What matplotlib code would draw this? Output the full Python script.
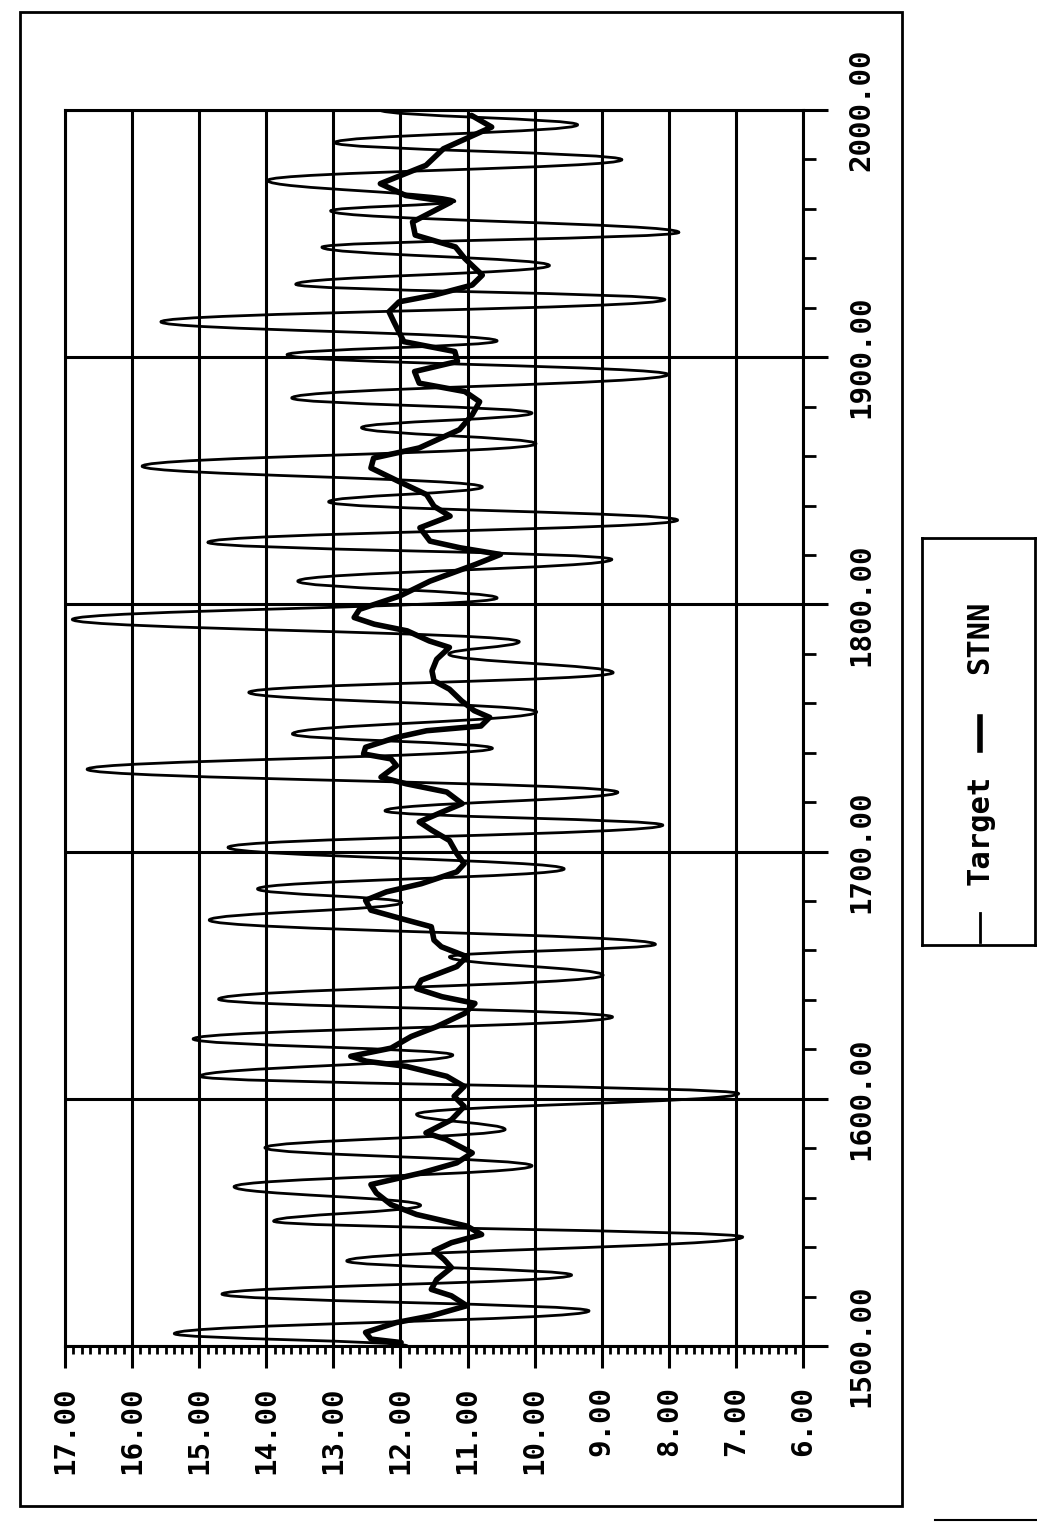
import matplotlib
matplotlib.use('Agg')
import matplotlib.pyplot as plt
from matplotlib.path import Path
from matplotlib.patches import PathPatch, Rectangle
from matplotlib.ticker import MultipleLocator, FormatStrFormatter
from matplotlib.lines import Line2D

# ---------------- data (time, value) ----------------
target_t = [1500.0, 1505.0, 1514.2, 1521.0, 1528.7, 1534.4, 1544.1, 1550.5, 1556.9, 1564.4,
            1572.9, 1580.2, 1587.6, 1593.7, 1602.1, 1609.1, 1617.7, 1624.2, 1633.1, 1640.3,
            1650.0, 1657.4, 1662.5, 1672.3, 1679.4, 1684.9, 1693.0, 1701.7, 1710.7, 1716.5,
            1724.0, 1733.3, 1741.8, 1747.6, 1756.5, 1764.4, 1772.4, 1779.9, 1784.9, 1793.9,
            1802.6, 1809.4, 1818.2, 1825.1, 1834.1, 1841.5, 1847.5, 1855.9, 1865.0, 1871.5,
            1877.4, 1883.5, 1893.0, 1901.0, 1906.6, 1914.3, 1923.3, 1929.5, 1937.1, 1944.5,
            1950.5, 1959.2, 1963.1, 1971.5, 1979.9, 1986.8, 1994.0, 2000.0]
target_v = [11.90, 15.37, 9.19, 14.66, 9.45, 12.80, 6.90, 13.89, 11.70, 14.48,
            10.04, 14.02, 10.44, 11.76, 6.96, 14.99, 11.22, 15.09, 8.84, 14.71,
            8.98, 11.27, 8.20, 14.85, 11.98, 14.13, 9.56, 14.57, 8.09, 12.23,
            8.76, 16.67, 10.63, 13.61, 9.97, 14.26, 8.83, 11.28, 10.23, 16.89,
            10.56, 13.53, 8.85, 14.87, 7.87, 13.07, 10.78, 15.85, 9.98, 12.58,
            10.04, 13.62, 8.01, 13.69, 10.56, 15.57, 8.06, 13.56, 9.78, 13.17,
            7.85, 13.04, 11.19, 13.98, 8.70, 12.98, 9.36, 12.30]

stnn_t = [1501.4, 1502.8, 1505.5, 1509.5, 1512.2, 1516.3, 1520.3, 1522.9, 1526.9, 1531.7,
          1535.0, 1538.5, 1541.8, 1545.1, 1548.5, 1553.2, 1557.2, 1561.9, 1565.3, 1570.0,
          1574.1, 1578.1, 1583.6, 1586.2, 1591.5, 1596.9, 1601.0, 1605.0, 1609.1, 1613.1,
          1615.2, 1617.2, 1620.5, 1625.2, 1629.2, 1634.6, 1638.6, 1641.3, 1644.6, 1648.0,
          1653.5, 1657.5, 1661.5, 1664.2, 1669.6, 1672.9, 1676.3, 1680.3, 1683.7, 1687.0,
          1691.8, 1695.1, 1699.2, 1704.5, 1708.6, 1712.0, 1716.0, 1719.4, 1724.1, 1727.4,
          1730.1, 1734.8, 1737.5, 1739.5, 1742.2, 1746.2, 1748.9, 1750.8, 1754.3, 1757.0,
          1761.0, 1765.7, 1769.1, 1773.1, 1777.8, 1782.6, 1785.2, 1789.3, 1792.0, 1794.7,
          1798.0, 1803.4, 1809.4, 1816.2, 1820.2, 1822.9, 1825.6, 1831.0, 1835.7, 1839.7,
          1844.4, 1849.8, 1855.2, 1859.2, 1863.3, 1870.7, 1876.7, 1882.0, 1886.1, 1889.5,
          1894.2, 1898.3, 1902.3, 1906.3, 1914.4, 1918.4, 1922.4, 1925.1, 1929.2, 1933.2,
          1939.9, 1944.6, 1949.4, 1954.7, 1962.7, 1965.4, 1970.2, 1977.6, 1984.3, 1993.1,
          1997.8]
stnn_v = [11.99, 12.44, 12.52, 12.06, 11.54, 11.01, 11.24, 11.54, 11.46, 11.24,
          11.35, 11.50, 11.24, 10.79, 11.01, 11.76, 12.14, 12.36, 12.44, 11.69,
          11.16, 10.93, 11.32, 11.62, 11.24, 11.05, 11.20, 11.05, 11.31, 11.91,
          12.51, 12.74, 12.14, 11.84, 11.46, 11.04, 10.89, 11.38, 11.76, 11.69,
          11.16, 11.01, 11.39, 11.50, 11.54, 11.99, 12.44, 12.52, 12.21, 11.69,
          11.16, 11.05, 11.16, 11.27, 11.53, 11.72, 11.38, 11.08, 11.31, 11.91,
          12.29, 12.06, 12.14, 12.55, 12.52, 12.06, 11.61, 10.80, 10.67, 10.90,
          11.09, 11.27, 11.50, 11.53, 11.46, 11.27, 11.57, 11.90, 12.39, 12.69,
          12.61, 12.01, 11.56, 10.88, 10.51, 11.11, 11.56, 11.71, 11.26, 11.50,
          11.61, 12.03, 12.44, 12.40, 11.72, 11.12, 10.93, 10.82, 11.04, 11.72,
          11.79, 11.15, 11.19, 11.95, 12.10, 12.17, 12.02, 11.50, 10.93, 10.78,
          11.04, 11.18, 11.78, 11.82, 11.25, 11.92, 12.30, 11.62, 11.36, 10.64,
          10.94]

value_ticks = [17, 16, 15, 14, 13, 12, 11, 10, 9, 8, 7, 6]
time_ticks = [1500, 1600, 1700, 1800, 1900, 2000]
series_names = ["Target", "STNN"]

# ---------------- figure ----------------
W, H = 1037, 1522
fig = plt.figure(figsize=(W / 100, H / 100), dpi=100)
plt.rcParams['font.family'] = ['DejaVu Sans Mono']
FONT = 'DejaVu Sans Mono'
WEIGHT = 'bold'


def fx(px):
    return px / W


def fy(py):
    return 1 - py / H


ax = fig.add_axes([fx(65), fy(1346), fx(803) - fx(65), fy(110) - fy(1346)])
ax.set_xlim(max(value_ticks), min(value_ticks))
ax.set_ylim(min(time_ticks), max(time_ticks))

# Target: smooth curve through read extrema (Bezier segments in data coordinates)
k = 0.42
verts = [(target_v[0], target_t[0])]
codes = [Path.MOVETO]
for i in range(len(target_t) - 1):
    t0, t1 = target_t[i], target_t[i + 1]
    v0, v1 = target_v[i], target_v[i + 1]
    dt = t1 - t0
    verts += [(v0, t0 + k * dt), (v1, t1 - k * dt), (v1, t1)]
    codes += [Path.CURVE4] * 3
ax.add_patch(PathPatch(Path(verts, codes), fill=False, edgecolor='black',
                       linewidth=2.0, zorder=3))

# STNN
ax.plot(stnn_v, stnn_t, color='black', linewidth=4.0, zorder=4,
        solid_joinstyle='round', solid_capstyle='round')

# axes styling
ax.set_xticks(value_ticks)
ax.xaxis.set_minor_locator(MultipleLocator(0.125))
ax.set_yticks(time_ticks)
ax.yaxis.set_minor_locator(MultipleLocator(20))
ax.xaxis.set_major_formatter(FormatStrFormatter('%.2f'))
ax.yaxis.set_major_formatter(FormatStrFormatter('%.2f'))
ax.yaxis.tick_right()

ax.tick_params(axis='x', which='major', direction='out', length=16, width=2.2,
               pad=13, labelsize=21, labelrotation=90, top=False)
ax.tick_params(axis='x', which='minor', direction='out', length=6, width=2.0, top=False)
ax.tick_params(axis='y', which='major', direction='out', length=18, width=2.2,
               pad=14, labelsize=21, labelrotation=90, right=True, left=False)
ax.tick_params(axis='y', which='minor', direction='out', length=9, width=2.0,
               right=True, left=False)
for lab in ax.get_xticklabels() + ax.get_yticklabels():
    lab.set_fontfamily(FONT)
    lab.set_fontweight(WEIGHT)
for lab in ax.get_yticklabels():
    lab.set_va('center')

ax.grid(True, which='major', color='black', linewidth=2.2, zorder=1)
ax.set_axisbelow(True)
for s in ax.spines.values():
    s.set_linewidth(2.2)

# outer border
fig.add_artist(Rectangle((fx(20), fy(1506)), fx(902) - fx(20), fy(12) - fy(1506),
                         fill=False, linewidth=2.0, edgecolor='black',
                         transform=fig.transFigure))
fig.add_artist(Line2D([fx(935), fx(1037)], [fy(1520), fy(1520)], color='black',
                      linewidth=1.5, transform=fig.transFigure))

# legend (rotated)
lax = fig.add_axes([fx(922), fy(945), fx(1035) - fx(922), fy(538) - fy(945)])
lax.set_xlim(922, 1035)
lax.set_ylim(945, 538)
lax.set_xticks([])
lax.set_yticks([])
for s in lax.spines.values():
    s.set_linewidth(2.0)
lax.plot([980, 980], [913, 942], color='black', linewidth=2.0)
lax.text(980, 830, series_names[0], rotation=90, ha='center', va='center',
         fontsize=22, family=FONT, weight=WEIGHT)
lax.plot([980, 980], [717, 750], color='black', linewidth=4.0)
lax.text(980, 637, series_names[1], rotation=90, ha='center', va='center',
         fontsize=22, family=FONT, weight=WEIGHT)

fig.savefig('out.png', dpi=100)
